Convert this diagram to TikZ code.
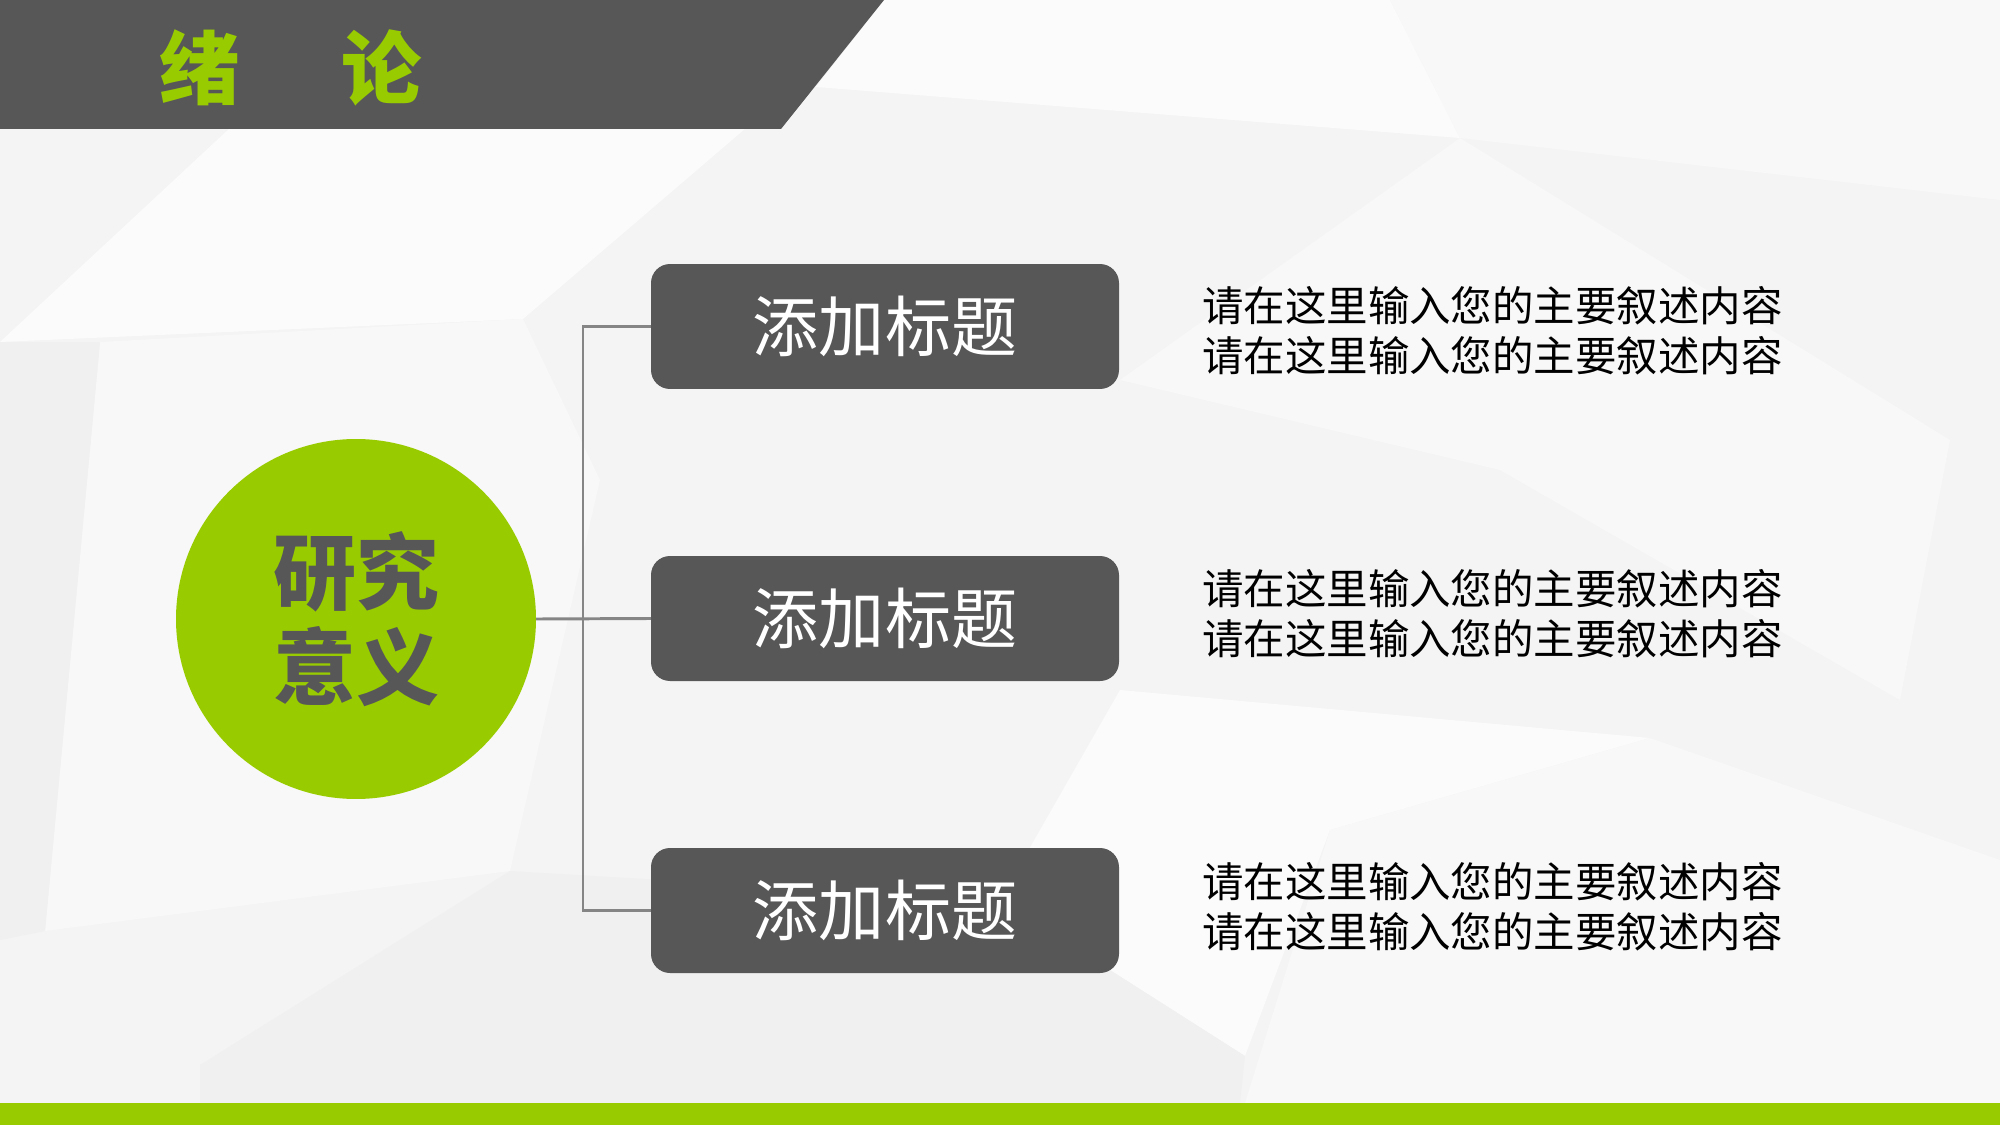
\documentclass[tikz,border=0pt]{standalone}
\usepackage{fontspec}
\setmainfont{Noto Sans CJK SC}
\begin{document}
\begin{tikzpicture}[x=0.05cm,y=-0.05cm,
  darkbox/.style={fill=hdr,draw=none,rounded corners=0.95cm,minimum width=23.4cm,minimum height=6.25cm,inner sep=0pt,text=white,font=\fontsize{94pt}{100pt}\selectfont},
  desc/.style={anchor=west,align=left,inner sep=0pt,text=black,font=\fontsize{59pt}{71pt}\selectfont},
  conn/.style={draw=lineg,line width=4.2pt}]
\definecolor{hdr}{HTML}{575757}
\definecolor{grn}{HTML}{99CC00}
\definecolor{lineg}{HTML}{858585}
\definecolor{bga}{HTML}{F4F4F5}
\definecolor{bgb}{HTML}{FBFBFB}
\definecolor{bgc}{HTML}{F0F0F1}
\definecolor{bgd}{HTML}{F8F8F8}
\useasboundingbox (0,0) rectangle (2000,1125);
% background
\fill[bga] (0,0) rectangle (2000,1125);
\fill[bgb] (0,342) -- (523,319) -- (746,128) -- (230,128) -- cycle;
\fill[bgb] (884,0) -- (816,87) -- (1460,138) -- (1390,0) -- cycle;
\fill[bgd] (1390,0) -- (1460,138) -- (2000,200) -- (2000,0) -- cycle;
\fill[bgd] (45,931) -- (100,342) -- (523,319) -- (600,480) -- (510,871) -- cycle;
\fill[bgc] (0,342) -- (100,342) -- (45,931) -- (0,940) -- cycle;
\fill[bgb] (1120,690) -- (1650,738) -- (1330,830) -- (1245,1056) -- (1000,900) -- cycle;
\fill[bgd] (1460,138) -- (1950,440) -- (1900,700) -- (1500,470) -- (1120,380) -- cycle;
\fill[bgc] (200,1065) -- (510,871) -- (1000,900) -- (1245,1056) -- (1240,1103) -- (200,1103) -- cycle;
\fill[bgd] (1650,738) -- (2000,860) -- (2000,1103) -- (1245,1103) -- (1330,830) -- cycle;
% header
\fill[hdr] (0,0) -- (884,0) -- (781,129) -- (0,129) -- cycle;
\node[text=grn,font=\bfseries\fontsize{114pt}{120pt}\selectfont,inner sep=0pt] (title) at (291,68) {绪\hspace{1.27em}论};
% bottom bar
\fill[grn] (0,1103) rectangle (2000,1125);
% circle
\node[circle,fill=grn,minimum size=18cm,inner sep=0pt,align=center,text=hdr,font=\bfseries\fontsize{118pt}{136pt}\selectfont] (c) at (356,619) {研究\\意义};
% boxes
\node[darkbox] (b1) at (885,326.5) {添加标题};
\node[darkbox] (b2) at (885,618.5) {添加标题};
\node[darkbox] (b3) at (885,910.5) {添加标题};
% connectors
\coordinate (j1) at (583,326.5);
\coordinate (j3) at (583,910.5);
\draw[conn] (b1.west) -- (j1) -- (j3) -- (b3.west);
\draw[conn] (c.east) -- (b2.west);
% descriptions
\node[desc] (d1) at (1202,331) {请在这里输入您的主要叙述内容\\请在这里输入您的主要叙述内容};
\node[desc] (d2) at (1202,614) {请在这里输入您的主要叙述内容\\请在这里输入您的主要叙述内容};
\node[desc] (d3) at (1202,907) {请在这里输入您的主要叙述内容\\请在这里输入您的主要叙述内容};
\end{tikzpicture}
\end{document}
